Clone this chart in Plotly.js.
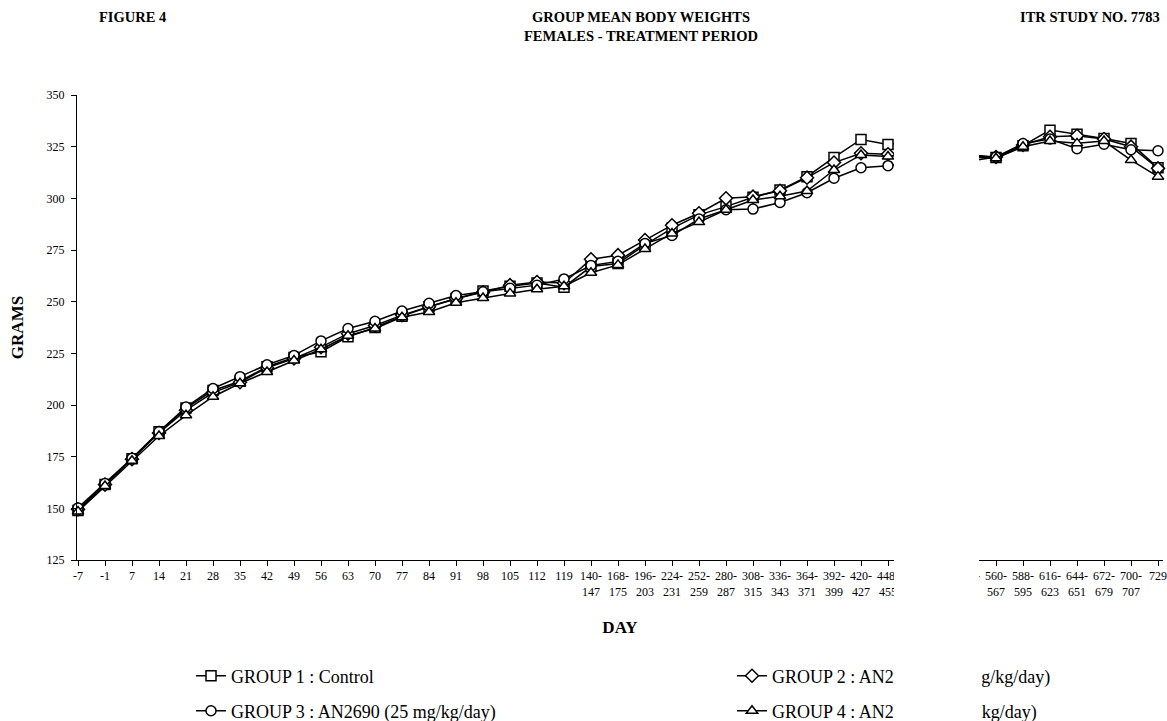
<!DOCTYPE html>
<html><head><meta charset="utf-8">
<script src="https://cdn.plot.ly/plotly-3.0.1.min.js"></script>
<style>html,body{margin:0;padding:0;background:#fff}#chart{width:1167px;height:721px}</style>
</head><body><div id="chart"></div>
<script>
// Study day categories (x axis)
const days = ["-7","-1","7","14","21","28","35","42","49","56","63","70","77","84","91","98","105","112","119",
  "140-147","168-175","196-203","224-231","252-259","280-287","308-315","336-343","364-371","392-399","420-427","448-455",
  "476-483","504-511","532-539","560-567","588-595","616-623","644-651","672-679","700-707","729"];
const dayTickLabels = ["-7","-1","7","14","21","28","35","42","49","56","63","70","77","84","91","98","105","112","119",
  "140-<br>147","168-<br>175","196-<br>203","224-<br>231","252-<br>259","280-<br>287","308-<br>315","336-<br>343","364-<br>371","392-<br>399","420-<br>427","448-<br>455",
  "476-<br>483","504-<br>511","532-<br>539","560-<br>567","588-<br>595","616-<br>623","644-<br>651","672-<br>679","700-<br>707","729"];

// Group mean body weights (grams)
const group1 = [149.0,161.5,174.0,187.0,198.5,207.0,211.5,218.5,223.0,225.8,233.0,237.5,243.0,247.5,251.5,255.2,257.5,259.0,257.0,
  267.0,268.5,277.5,285.5,292.0,296.0,300.5,304.0,310.5,319.8,328.5,326.0,327.5,326.0,321.0,319.7,325.5,333.0,331.0,329.0,326.5,314.8];
const group2 = [149.5,161.5,173.8,186.5,197.5,206.0,211.0,218.0,222.5,228.0,234.5,238.5,243.5,247.5,251.5,254.5,258.0,259.5,259.0,
  270.5,272.5,279.8,287.0,292.8,300.0,300.8,303.7,310.0,317.3,321.8,321.3,323.0,324.0,321.0,320.0,325.8,329.8,330.3,328.7,325.0,314.5];
const group3 = [150.2,162.0,174.2,187.0,199.0,208.0,213.7,219.5,224.0,231.0,237.0,240.5,245.5,249.2,253.0,254.8,256.5,258.0,261.0,
  267.5,269.5,278.2,282.0,290.0,294.5,294.8,298.0,302.7,309.7,314.8,315.8,318.0,320.0,318.0,320.0,326.5,328.7,324.0,326.2,323.5,323.0];
const group4 = [148.5,160.8,173.0,185.0,195.0,204.0,210.5,216.0,221.5,227.0,233.5,237.0,242.5,245.0,249.5,251.8,254.0,256.0,257.5,
  264.0,267.8,275.5,283.0,288.5,294.5,299.2,301.0,303.5,313.7,321.0,320.2,322.0,322.0,320.0,319.4,325.0,327.7,326.6,327.7,318.5,310.5];

// Legend labels (the middle of groups 2 and 4 is masked in the reference, so it is drawn in white)
const seriesNames = ["GROUP 1 : Control",
  "GROUP 2 : AN2<span style=\"color:#ffffff\">690 (12.5 m</span>g/kg/day)",
  "GROUP 3 : AN2690 (25 mg/kg/day)",
  "GROUP 4 : AN2<span style=\"color:#ffffff\">690 (50 mg/</span>kg/day)"];
const yTicks = [125,150,175,200,225,250,275,300,325,350];

const FONT = "Liberation Serif, Times New Roman, serif";
const symbols = ["square","diamond","circle","triangle-up"];
const sizes = [10,10,10,10];
const legendIds = ["legend","legend2","legend3","legend4"];
const values = [group1, group2, group3, group4];

const traces = values.map((v, i) => ({
  type: "scatter", mode: "lines+markers",
  x: days, y: v, name: seriesNames[i], legend: legendIds[i],
  line: {color: "#000", width: 1.5},
  marker: {symbol: symbols[i], size: sizes[i], color: "#fff", line: {color: "#000", width: 1.5}},
  cliponaxis: false
}));

const L = 77, R = 4, T = 95, B = 161, W = 1167, H = 721;
const pw = W - L - R, ph = H - T - B;
const px2x = p => (p - L) / pw;
const py2y = p => (H - B - p) / ph;
const x0 = -1/27;

function legendAt(xp, yp) {
  return {x: px2x(xp), y: py2y(yp), xanchor: "left", yanchor: "middle", bgcolor: "rgba(0,0,0,0)",
    font: {family: FONT, size: 18, color: "#000"}, borderwidth: 0};
}

const layout = {
  width: W, height: H,
  margin: {l: L, r: R, t: T, b: B, pad: 0, autoexpand: false},
  paper_bgcolor: "#fff", plot_bgcolor: "#fff",
  font: {family: FONT, color: "#000", size: 12},
  showlegend: true,
  title: {text: "GROUP MEAN BODY WEIGHTS<br>FEMALES - TREATMENT PERIOD",
    font: {family: FONT, size: 14.5, weight: "bold", color: "#000"},
    xref: "container", x: 641 / W, xanchor: "center", yref: "container", y: 1 - 22 / H, yanchor: "top"},
  xaxis: {type: "category", range: [x0, x0 + pw / 27], tickvals: days, ticktext: dayTickLabels,
    showline: true, linecolor: "#000", linewidth: 1, ticks: "outside", ticklen: 5, tickcolor: "#000", tickwidth: 1,
    showgrid: false, zeroline: false, tickangle: 0, tickfont: {family: FONT, size: 12, color: "#000"},
    title: {text: "DAY", font: {family: FONT, size: 17, weight: "bold", color: "#000"}, standoff: 23},
    fixedrange: true, automargin: false},
  yaxis: {range: [125, 350], tickvals: yTicks, showline: true, linecolor: "#000", linewidth: 1,
    ticks: "outside", ticklen: 5, tickcolor: "#000", tickwidth: 1, showgrid: false, zeroline: false,
    ticklabelstandoff: 4,
    tickfont: {family: FONT, size: 12, color: "#000"},
    title: {text: "GRAMS", font: {family: FONT, size: 17, weight: "bold", color: "#000"}, standoff: 18},
    fixedrange: true, automargin: false},
  legend: legendAt(191, 676),
  legend2: legendAt(732, 676),
  legend3: legendAt(191, 711),
  legend4: legendAt(732, 711),
  annotations: [
    {text: "FIGURE 4", xref: "paper", yref: "paper", x: px2x(132), y: py2y(17), xanchor: "center", yanchor: "middle",
      showarrow: false, font: {family: FONT, size: 14.5, weight: "bold", color: "#000"}},
    {text: "ITR STUDY NO. 7783", xref: "paper", yref: "paper", x: px2x(1162), y: py2y(17), xanchor: "right", yanchor: "middle",
      showarrow: false, font: {family: FONT, size: 14.5, weight: "bold", color: "#000"}}
  ],
  shapes: [
    {type: "rect", xref: "paper", yref: "paper", x0: px2x(894), x1: px2x(979), y0: py2y(650), y1: py2y(60),
      fillcolor: "#fff", line: {width: 0}, layer: "above"}
  ]
};

Plotly.newPlot("chart", traces, layout, {displayModeBar: false, staticPlot: true});
</script>
</body></html>
